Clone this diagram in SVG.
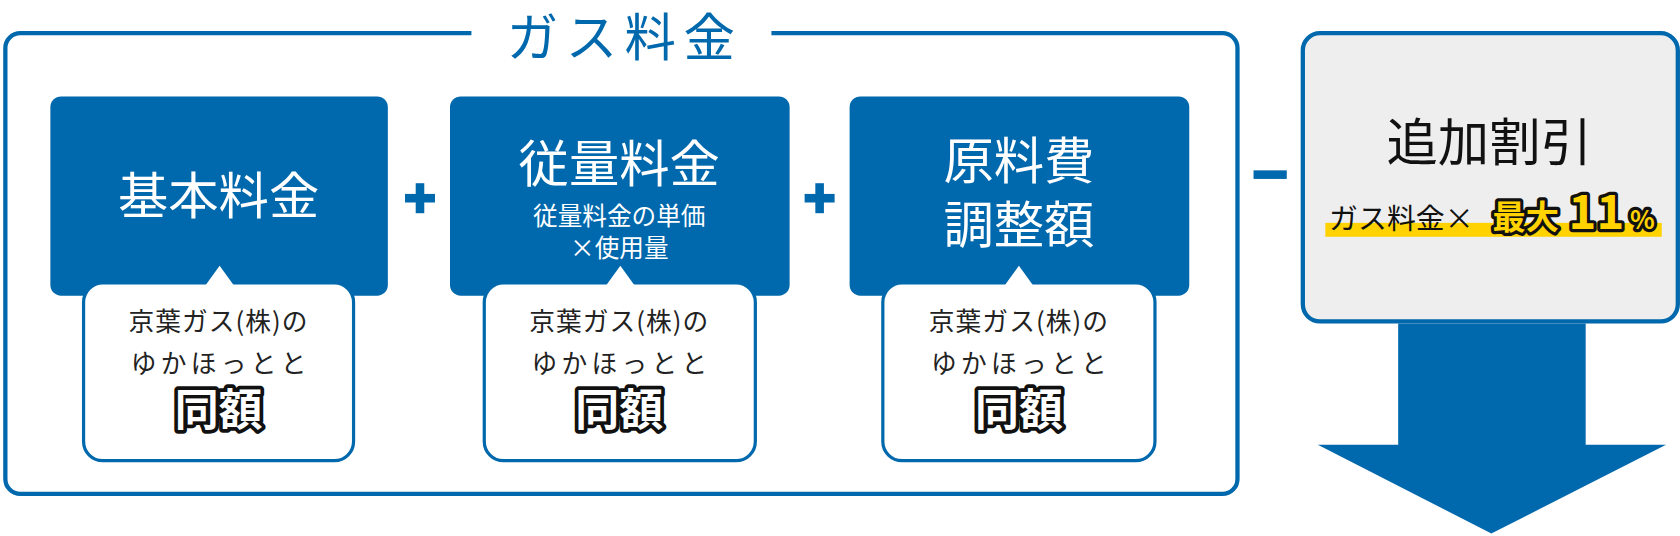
<svg xmlns="http://www.w3.org/2000/svg" width="1680" height="536" viewBox="0 0 1680 536">
<style>
text{font-family:"Noto Sans CJK JP","Noto Sans",sans-serif;text-anchor:middle}
.blue{fill:#0068ac}
.call{fill:#fff;stroke:#0068ac;stroke-width:3}
.t{font-size:24px;fill:#222;letter-spacing:1px}
.t2{font-size:24px;fill:#222;letter-spacing:4px}
.same{font-size:41px;font-weight:bold;fill:#fff;stroke:#111;stroke-width:7;paint-order:stroke;stroke-linejoin:round}
.big{font-size:47px;fill:#fff}
.op{fill:#0068ac}
.y{font-weight:bold;fill:#ffd200;stroke:#111;stroke-width:6;paint-order:stroke;stroke-linejoin:round}
</style>
<rect width="1680" height="536" fill="#fff"/>
<g transform="scale(1.0714)">
<g id="gas">
<rect x="5" y="31" width="1150" height="430" rx="14" fill="none" stroke="#0068ac" stroke-width="4"/>
<rect x="440" y="20" width="280" height="24" fill="#fff"/>
<text x="583" y="52" font-size="48" fill="#0068ac" letter-spacing="7">ガス料金</text>
</g>
<g id="n1">
<rect class="blue" x="47" y="90" width="315" height="186" rx="10"/>
<text class="big" x="204" y="200">基本料金</text>
<rect class="call" x="78" y="264" width="252" height="166" rx="18"/>
<path d="M192 266 L205 248 L218 266Z" fill="#fff"/>
<text class="t" x="204" y="309">京葉ガス(株)の</text>
<text class="t2" x="206" y="348">ゆかほっとと</text>
<text class="same" x="204" y="398">同額</text>
</g>
<g id="n2">
<rect class="blue" x="420" y="90" width="317" height="186" rx="10"/>
<text class="big" x="578" y="170">従量料金</text>
<text x="578" y="210" font-size="23" fill="#fff">従量料金の単価</text>
<text x="578" y="240" font-size="23" fill="#fff">×使用量</text>
<rect class="call" x="452" y="264" width="253" height="166" rx="18"/>
<path d="M566 266 L579 248 L592 266Z" fill="#fff"/>
<text class="t" x="578" y="309">京葉ガス(株)の</text>
<text class="t2" x="580" y="348">ゆかほっとと</text>
<text class="same" x="578" y="398">同額</text>
</g>
<g id="n3">
<rect class="blue" x="793" y="90" width="317" height="186" rx="10"/>
<text class="big" x="951" y="167">原料費</text>
<text class="big" x="951" y="227">調整額</text>
<rect class="call" x="824" y="264" width="254" height="166" rx="18"/>
<path d="M938 266 L951 248 L964 266Z" fill="#fff"/>
<text class="t" x="951" y="309">京葉ガス(株)の</text>
<text class="t2" x="953" y="348">ゆかほっとと</text>
<text class="same" x="951" y="398">同額</text>
</g>
<g id="ops">
<rect class="op" x="378" y="181" width="28" height="8"/><rect class="op" x="388" y="171" width="8" height="28"/>
<rect class="op" x="751" y="181" width="28" height="8"/><rect class="op" x="761" y="171" width="8" height="28"/>
<rect class="op" x="1170" y="159" width="31" height="8"/>
</g>
<g id="disc">
<rect x="1216" y="31" width="350" height="269" rx="16" fill="#eee" stroke="#0068ac" stroke-width="4"/>
<rect x="1237" y="208" width="314" height="13" fill="#ffd200"/>
<text x="1390" y="150" font-size="48" fill="#111">追加割引</text>
<text x="1308" y="214" font-size="27" fill="#111">ガス料金×</text>
<text class="y" x="1424" y="214" font-size="31">最大</text>
<text class="y" x="1490" y="214" font-size="44">11</text>
<text class="y" x="1533" y="214" font-size="24" stroke-width="5">%</text>
</g>
<g id="connectors">
<path d="M1305 302 H1480 V415 H1555 L1392 498 L1230 415 H1305Z" fill="#0068ac"/>
</g>
</g>
</svg>
